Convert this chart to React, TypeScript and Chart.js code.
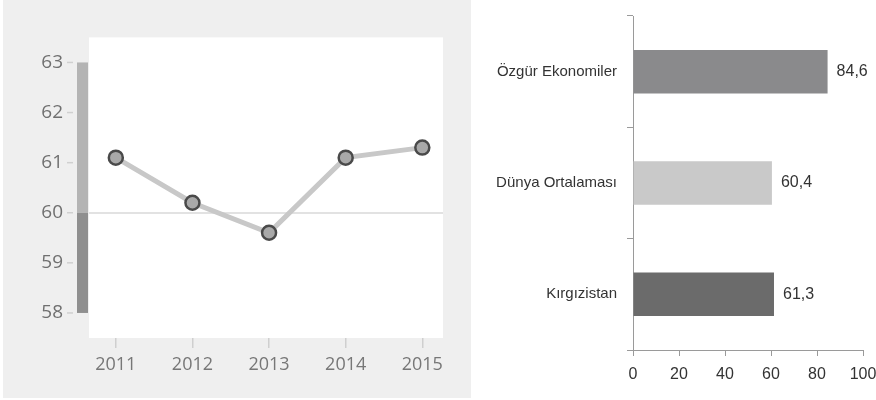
import React, { useEffect, useRef } from "react";
import { Chart, registerables } from "chart.js";

Chart.register(...registerables);

// ---- Left chart data ----
const years = [2011, 2012, 2013, 2014, 2015];
const scores = [61.1, 60.2, 59.6, 61.1, 61.3];
const yTickValues = [58, 59, 60, 61, 62, 63];
const bandSplit = 60;

// ---- Right chart data ----
const categories = ["Özgür Ekonomiler", "Dünya Ortalaması", "Kırgızistan"];
const barValues = [84.6, 60.4, 61.3];
const barColors = ["#8a8a8c", "#c9c9c9", "#6b6b6b"];
const xTickValues = [0, 20, 40, 60, 80, 100];

const leftFont = "'Open Sans', sans-serif";
const rightFont = "'Liberation Sans', Arial, sans-serif";

export default function App() {
  const leftRef = useRef<HTMLCanvasElement>(null);
  const rightRef = useRef<HTMLCanvasElement>(null);

  useEffect(() => {
    const whiteArea = {
      id: "whiteArea",
      beforeDraw(chart: any) {
        const { ctx, chartArea } = chart;
        ctx.save();
        ctx.fillStyle = "#ffffff";
        ctx.fillRect(chartArea.left, chartArea.top, chartArea.right - chartArea.left, chartArea.bottom - chartArea.top);
        ctx.restore();
      },
      afterDraw(chart: any) {
        const { ctx, chartArea } = chart;
        const y = chart.scales.y;
        const lo = y.getPixelForValue(yTickValues[0]);
        const hi = y.getPixelForValue(yTickValues[yTickValues.length - 1]);
        const mid = y.getPixelForValue(bandSplit);
        ctx.save();
        ctx.fillStyle = "#b4b4b4";
        ctx.fillRect(chartArea.left - 12, hi, 11, mid - hi);
        ctx.fillStyle = "#8f8f8f";
        ctx.fillRect(chartArea.left - 12, mid, 11, lo - mid);
        ctx.strokeStyle = "#d0d0d0";
        ctx.lineWidth = 1.5;
        yTickValues.forEach((v) => {
          const py = y.getPixelForValue(v);
          ctx.beginPath();
          ctx.moveTo(chartArea.left - 22, py);
          ctx.lineTo(chartArea.left - 16, py);
          ctx.stroke();
        });
        ctx.restore();
      },
    };

    const left = new Chart(leftRef.current!, {
      type: "line",
      data: {
        datasets: [
          {
            data: years.map((x, i) => ({ x, y: scores[i] })),
            borderColor: "#c8c8c8",
            borderWidth: 5,
            pointRadius: 7,
            pointBackgroundColor: "#a9a9a9",
            pointBorderColor: "#4a4a4a",
            pointBorderWidth: 2.5,
            tension: 0,
          },
        ],
      },
      options: {
        animation: false,
        responsive: false,
        layout: { padding: { top: 35, right: 28, left: 0, bottom: 0 } },
        plugins: { legend: { display: false }, tooltip: { enabled: false } },
        scales: {
          x: {
            type: "linear",
            min: 2010.65,
            max: 2015.27,
            afterBuildTicks: (axis: any) => {
              axis.ticks = years.map((v) => ({ value: v }));
            },
            afterFit: (s: any) => {
              s.height = 60;
            },
            grid: { drawOnChartArea: false, drawTicks: true, tickLength: 10, color: "#cfcfcf", lineWidth: 1.5 },
            border: { display: false },
            ticks: {
              padding: 6,
              color: "#777777",
              font: { family: leftFont, size: 18 },
              callback: (v: any) => String(v),
            },
          },
          y: {
            min: 57.5,
            max: 63.5,
            afterBuildTicks: (axis: any) => {
              axis.ticks = yTickValues.map((v) => ({ value: v }));
            },
            afterFit: (s: any) => {
              s.width = 86;
            },
            grid: {
              drawTicks: false,
              color: (c: any) => (c.tick && c.tick.value === bandSplit ? "#e2e2e2" : "rgba(0,0,0,0)"),
              lineWidth: 2,
            },
            border: { display: false },
            ticks: {
              padding: 26,
              color: "#707070",
              font: { family: leftFont, size: 19 },
              callback: (v: any) => String(v),
            },
          },
        },
      },
      plugins: [whiteArea],
    } as any);

    const valueLabels = {
      id: "valueLabels",
      afterDatasetsDraw(chart: any) {
        const { ctx } = chart;
        const meta = chart.getDatasetMeta(0);
        ctx.save();
        ctx.fillStyle = "#333333";
        ctx.font = `16px ${rightFont}`;
        ctx.textAlign = "left";
        ctx.textBaseline = "middle";
        meta.data.forEach((bar: any, i: number) => {
          ctx.fillText(barValues[i].toFixed(1).replace(".", ","), bar.x + 9, bar.y);
        });
        ctx.restore();
      },
    };

    const right = new Chart(rightRef.current!, {
      type: "bar",
      data: {
        labels: categories,
        datasets: [
          {
            data: barValues,
            backgroundColor: barColors,
            borderWidth: 0,
            categoryPercentage: 1,
            barPercentage: 0.39,
          },
        ],
      },
      options: {
        animation: false,
        responsive: false,
        indexAxis: "y",
        layout: { padding: { top: 16, right: 13, left: 0, bottom: 0 } },
        plugins: { legend: { display: false }, tooltip: { enabled: false } },
        scales: {
          y: {
            afterFit: (s: any) => {
              s.width = 162;
              s.paddingTop = 0;
              s.paddingBottom = 0;
            },
            grid: { drawOnChartArea: false, drawTicks: true, tickLength: 6, color: "#9a9a9a", offset: true },
            border: { color: "#9a9a9a" },
            ticks: { padding: 10, color: "#333333", font: { family: rightFont, size: 15 } },
          },
          x: {
            min: 0,
            max: 100,
            afterBuildTicks: (axis: any) => {
              axis.ticks = xTickValues.map((v) => ({ value: v }));
            },
            afterFit: (s: any) => {
              s.height = 50;
              s.paddingRight = 0;
              s.paddingLeft = 0;
            },
            grid: { drawOnChartArea: false, drawTicks: true, tickLength: 6, color: "#9a9a9a" },
            border: { color: "#9a9a9a" },
            ticks: { padding: 9, color: "#333333", font: { family: rightFont, size: 16 } },
          },
        },
      },
      plugins: [valueLabels],
    } as any);

    return () => {
      left.destroy();
      right.destroy();
    };
  }, []);

  return (
    <div style={{ position: "fixed", left: 0, top: 0, width: 876, height: 400, background: "#ffffff" }}>
      <canvas
        ref={leftRef}
        width={468}
        height={398}
        style={{ position: "absolute", left: 3, top: 0, width: 468, height: 398, background: "#efefef" }}
      />
      <canvas
        ref={rightRef}
        width={405}
        height={400}
        style={{ position: "absolute", left: 471, top: 0, width: 405, height: 400 }}
      />
    </div>
  );
}
